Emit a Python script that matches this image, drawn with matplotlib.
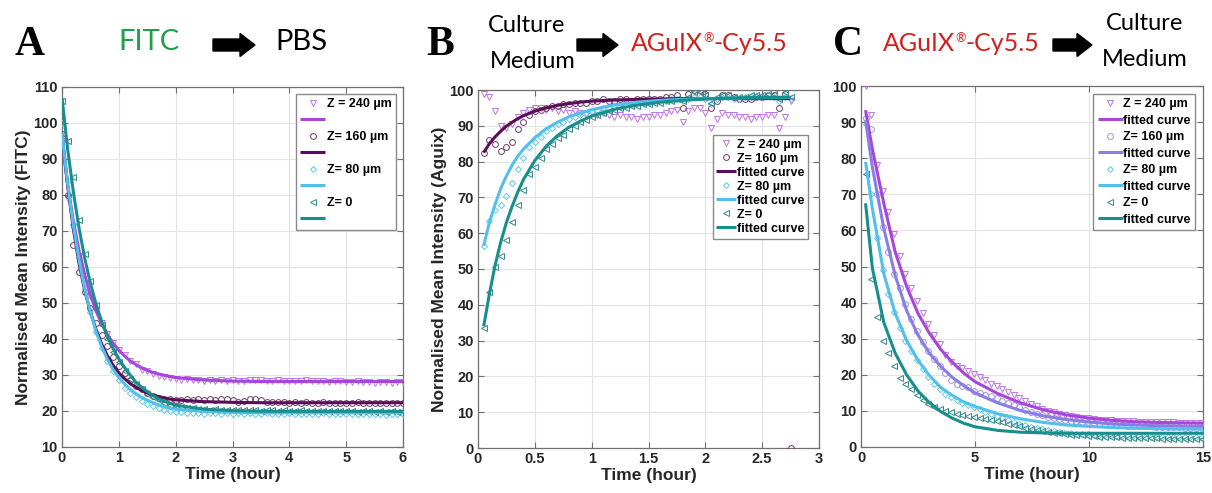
import numpy as np
import matplotlib
matplotlib.use('Agg')
import matplotlib.pyplot as plt
from matplotlib.lines import Line2D
from matplotlib.patches import FancyArrow

plt.rcParams['font.family'] = ['Liberation Sans', 'DejaVu Sans']
plt.rcParams['font.weight'] = 'bold'

W, H = 1212, 493

# ---------------- panel A : FITC -> PBS (sampled every 0.1 h from t=0)
A_T0, A_DT = 0.0, 0.1
A_Z240 = [95, 79, 71, 63, 57.5, 52, 48, 44.5, 41.5, 39, 37, 35.5, 34, 33, 31.5, 31, 30.2, 29.8, 29.5, 29.2, 29,
          28.6, 28.8, 28.5, 28.6, 28.4, 28.5, 28.3, 28.6, 28.4, 28.5, 28.3, 28.4, 28.6, 28.7, 28.5, 28.4, 28.3,
          28.5, 28.4, 28.3, 28.4, 28.2, 28.5, 28.3, 28.4, 28.2, 28.1, 28.3, 28.2, 28.0, 28.1, 28.2, 28.0, 28.1,
          27.9, 28.0, 28.1, 27.9, 28.0, 28.1]
A_Z160 = [97, 80, 66, 58.5, 53, 48.5, 44.5, 41, 38, 35, 32.5, 30.5, 28.5, 27, 26, 25, 24.2, 23.7, 23.4, 23.2, 23.1,
          23.0, 23.2, 23.1, 23.3, 23.0, 23.2, 23.1, 23.3, 23.2, 23.0, 22.6, 22.8, 23.2, 23.3, 23.1, 22.5, 22.4,
          22.6, 22.5, 22.3, 22.4, 22.3, 22.4, 22.2, 22.3, 22.4, 22.2, 22.3, 22.1, 22.3, 22.2, 22.4, 22.2, 22.3,
          22.1, 22.2, 22.3, 22.1, 22.2, 22.3]
A_Z80 = [100, 84, 72, 62.5, 54, 47.5, 42, 37.5, 34, 31, 28.5, 26.5, 25, 23.8, 22.8, 22, 21.3, 20.8, 20.4, 20.1, 19.8,
         19.6, 19.5, 19.4, 19.5, 19.3, 19.4, 19.5, 19.3, 19.4, 19.2, 19.4, 19.3, 19.5, 19.3, 19.2, 19.4, 19.3,
         19.2, 19.3, 19.4, 19.2, 19.3, 19.1, 19.3, 19.2, 19.4, 19.2, 19.3, 19.1, 19.2, 19.3, 19.1, 19.2, 19.3,
         19.1, 19.2, 19.0, 19.2, 19.1, 19.2]
A_Z0 = [106, 95, 85, 73, 63.5, 56, 49.5, 44, 40, 36.5, 33.5, 31, 29, 27.5, 26, 24.8, 23.8, 23, 22.3, 21.8, 21.3,
        21.0, 20.8, 20.7, 20.5, 20.6, 20.4, 20.5, 20.3, 20.4, 20.2, 20.3, 20.4, 20.2, 20.3, 20.1, 20.2, 20.3,
        20.1, 20.2, 20.0, 20.1, 20.2, 20.0, 20.1, 19.9, 20.0, 20.1, 19.9, 20.0, 19.9, 20.0, 19.8, 19.9, 20.0,
        19.8, 19.9, 19.8, 19.9, 19.8, 19.9]

A_FIT_T = [0, 0.1, 0.2, 0.3, 0.4, 0.5, 0.6, 0.7, 0.8, 0.9, 1.0, 1.1, 1.2, 1.3, 1.4, 1.5, 1.6, 1.7, 1.8, 1.9, 2.0,
           2.5, 3, 3.5, 4, 4.5, 5, 5.5, 6]
A_FIT240 = [95.2, 82.8, 72.7, 64.5, 57.8, 52.3, 47.8, 44.2, 41.2, 38.8, 36.9, 35.3, 33.9, 32.9, 32.0, 31.3, 30.7,
            30.3, 29.9, 29.6, 29.3, 28.6, 28.3, 28.2, 28.2, 28.2, 28.2, 28.2, 28.2]
A_FIT160 = [97, 82.5, 70.5, 61, 53.5, 47.5, 42.5, 38.5, 35.3, 32.7, 30.6, 29, 27.6, 26.6, 25.7, 25, 24.4, 24, 23.6,
            23.3, 23.1, 22.6, 22.4, 22.3, 22.3, 22.3, 22.3, 22.3, 22.3]
A_FIT80 = [97, 83, 71.5, 62, 54, 47.5, 42, 37.8, 34.3, 31.5, 29.3, 27.5, 26, 24.8, 23.8, 23, 22.3, 21.7, 21.2, 20.8,
           20.5, 19.9, 19.6, 19.5, 19.5, 19.5, 19.5, 19.5, 19.5]
A_FIT0 = [107, 92.7, 80.8, 70.8, 62.4, 55.5, 49.6, 44.8, 40.7, 37.3, 34.5, 32.1, 30.0, 28.0, 26.6, 25.4, 24.3, 23.4,
          22.7, 22.1, 21.6, 20.5, 20.1, 19.95, 19.9, 19.9, 19.9, 19.9, 19.9]

# ---------------- panel B : culture medium -> AGuIX (every 0.05 h from t=0.05)
B_T0, B_DT = 0.05, 0.05
B_Z240 = [99, 98, 94, 90, 89.5, 90.5, 92.5, 93.5, 94.5, 95, 95, 94.5, 95, 94, 94.5, 93.5, 94, 93.5, 93, 93.5, 93,
          93.5, 93, 92.5, 93, 92.5, 92.5, 92, 92.5, 92.5, 93, 93, 93.5, 94, 94.5, 91, 94, 95, 95, 93.5, 89.5, 92,
          93.5, 93, 93, 92.5, 92.5, 92, 92.5, 92.5, 93, 93, 89.5, 92.5, 97]
B_Z160 = [82.5, 86, 85, 83, 84, 85.5, 89, 91, 93, 94, 94.5, 95, 95.5, 95.5, 96, 96, 96.5, 96.5, 96.5, 97, 97, 97.5,
          97, 97, 97.5, 97.5, 97, 97.5, 97.5, 97.5, 97.5, 97.5, 98, 98, 98.5, 95, 99, 100, 100, 99, 95, 97, 98.5,
          98.5, 98, 97.5, 97.5, 97.5, 98, 98, 98.5, 98.5, 95, 99, 0]
B_Z80 = [56.5, 63.5, 66.5, 68, 70.5, 74, 78, 81, 84, 85.5, 87, 88.5, 89.5, 90.5, 91, 92, 92.5, 93, 93.5, 94, 94.5,
         95, 95, 95.5, 95.5, 96, 96, 96.5, 96.5, 96.5, 97, 97, 97, 97.5, 97.5, 97, 97.5, 98, 98, 97.5, 96, 97.5, 98,
         98, 97.5, 97.5, 98, 98, 98, 98, 98.5, 98, 97, 98, 97.5]
B_Z0 = [33.5, 43.5, 50.5, 53.5, 58, 63, 68, 72, 76.5, 78.5, 81, 83.5, 85, 86.5, 87.5, 89, 90, 91, 91.5, 92.5, 93,
        93.5, 94, 94.5, 95, 95, 95.5, 95.5, 96, 96, 96.5, 96.5, 97, 97, 97.5, 97, 98, 99.5, 99.5, 98.5, 96.5, 98,
        98.5, 98.5, 98, 98, 98, 98.5, 98.5, 98.5, 99, 99, 97.5, 99.5, 98]

B_FIT_T = [0.05, 0.1, 0.15, 0.2, 0.25, 0.3, 0.35, 0.4, 0.5, 0.6, 0.7, 0.8, 0.9, 1.0, 1.2, 1.4, 1.6, 1.8, 2.0, 2.4,
           2.75]
B_FIT160 = [82.5, 85, 86.9, 88.5, 89.9, 91, 92, 92.8, 94.1, 95, 95.7, 96.2, 96.6, 96.9, 97.2, 97.4, 97.5, 97.6, 97.6,
            97.6, 97.6]
B_FIT80 = [56.5, 63, 68, 72.5, 76, 79, 81.5, 83.5, 86.7, 89.2, 91, 92.5, 93.6, 94.5, 95.8, 96.6, 97.1, 97.4, 97.6,
           97.8, 97.9]
B_FIT0 = [34, 43, 51, 57.5, 63, 67.5, 71.5, 75, 80.3, 84.3, 87.3, 89.6, 91.3, 92.7, 94.6, 95.8, 96.6, 97.1, 97.5,
          97.9, 98]

# ---------------- panel C : AGuIX -> culture medium (every 0.25 h from t=0.2)
C_T0, C_DT = 0.2, 0.25
C_Z240 = [100, 92, 78, 71, 65, 59, 53, 48, 44, 40.5, 37, 34, 31, 28.5, 25.5, 23.5, 22.5, 21.8, 21, 20.2, 19.5, 18.5,
          17.5, 16.8, 16, 15.2, 14.5, 13.6, 12.8, 12, 11.3, 10.6, 10, 9.6, 9.2, 8.9, 8.6, 8.3, 8.1, 7.9, 7.7, 7.6,
          7.5, 7.4, 7.3, 7.2, 7.1, 7.1, 7.0, 7.0, 6.9, 6.9, 6.8, 6.8, 6.8, 6.7, 6.7, 6.7, 6.6, 6.6]
C_Z160 = [91, 88, 70, 61, 54, 48, 44, 39.5, 35.5, 32, 29, 26.5, 24.5, 22.5, 20.5, 18.5, 17.5, 17, 16.5, 15.5, 15,
          14.5, 14, 13.5, 12.8, 12.2, 11.5, 11, 10.3, 9.8, 9.2, 8.8, 8.4, 8.1, 7.8, 7.6, 7.3, 7.1, 6.9, 6.8, 6.6,
          6.5, 6.3, 6.2, 6.1, 6.0, 5.9, 5.9, 5.8, 5.7, 5.7, 5.6, 5.6, 5.5, 5.5, 5.5, 5.4, 5.4, 5.4, 5.3]
C_Z80 = [89.5, 70, 58, 49, 42.5, 37.5, 33, 29.5, 26.5, 24, 21.5, 19.5, 17.5, 16, 14.8, 13.8, 13, 12.3, 11.7, 11,
         10.4, 9.8, 9.2, 8.6, 8, 7.5, 7, 6.5, 6, 5.6, 5.2, 4.9, 4.6, 4.4, 4.2, 4.0, 3.8, 3.7, 3.6, 3.5, 3.4, 3.3,
         3.3, 3.2, 3.1, 3.1, 3.0, 3.0, 3.0, 2.9, 2.9, 2.9, 2.8, 2.8, 2.8, 2.8, 2.7, 2.7, 2.7, 2.7]
C_Z0 = [75.5, 46.5, 36, 29.5, 26, 22.5, 19, 17.5, 16, 14.5, 13, 12, 11, 10.5, 10, 9.6, 9.2, 8.9, 8.6, 8.3, 8, 7.7,
        7.4, 7.1, 6.8, 6.5, 6.1, 5.8, 5.4, 5.1, 4.8, 4.5, 4.2, 4.0, 3.8, 3.6, 3.4, 3.3, 3.2, 3.1, 3.0, 2.9, 2.8,
        2.8, 2.7, 2.6, 2.6, 2.5, 2.5, 2.4, 2.4, 2.4, 2.3, 2.3, 2.3, 2.2, 2.2, 2.2, 2.2, 2.1]

C_FIT_T = [0.2, 0.5, 1, 1.5, 2, 2.5, 3, 3.5, 4, 4.5, 5, 6, 7, 8, 9, 10, 11, 12, 13, 14, 15]
C_FIT240 = [93.3, 82.5, 67.5, 54, 44.5, 37, 31.5, 27, 23.5, 20.5, 18.1, 14.8, 12.2, 10.3, 8.9, 8.0, 7.4, 7.0, 6.8,
            6.7, 6.6]
C_FIT160 = [90.5, 77.5, 60.5, 47.5, 37.8, 31, 26, 22.3, 19.3, 17, 15, 12.2, 10.1, 8.6, 7.6, 6.9, 6.4, 6.1, 5.9, 5.8,
            5.7]
C_FIT80 = [79, 66, 48, 37, 29.5, 24, 19.8, 16.5, 14.3, 12.5, 11.2, 9.2, 7.8, 6.8, 6.1, 5.7, 5.4, 5.2, 5.1, 5.0, 5.0]
C_FIT0 = [67.5, 49.5, 34.5, 26, 20, 15.5, 12.3, 9.8, 8, 6.6, 5.6, 4.6, 4.1, 3.9, 3.8, 3.8, 3.8, 3.8, 3.8, 3.8, 3.8]

LABELS = ['Z = 240 µm', 'Z= 160 µm', 'Z= 80 µm', 'Z= 0']
MARKERS = ['v', 'o', 'D', '<']

# colours: (marker, line)
COL_240 = ('#C07BE4', '#A845DA')
COL_160 = ('#74486F', '#5A0E59')
COL_160C = ('#A29ADE', '#8A7DE3')
COL_80 = ('#6ACAEA', '#52C0EA')
COL_0 = ('#3A8E8C', '#178F8C')


def px(x, y):
    return x / W, 1 - y / H


def draw_series(ax, t0, dt, y, fit_t, fit_y, marker, cols):
    t = t0 + dt * np.arange(len(y))
    ms = 3.1 if marker == 'D' else 4.2
    ax.plot(t, y, ls='none', marker=marker, ms=ms, mfc='none', mec=cols[0], mew=0.75, zorder=3)
    hm = Line2D([], [], ls='none', marker=marker, ms=ms, mfc='none', mec=cols[0], mew=0.75)
    hl = None
    if fit_y is not None:
        hl, = ax.plot(fit_t, fit_y, color=cols[1], lw=2.2, solid_capstyle='butt', zorder=4)
    return hm, hl


def style_axes(ax, xlim, xticks, xlabels, ylim, yticks):
    ax.set_xlim(*xlim)
    ax.set_ylim(*ylim)
    ax.set_xticks(xticks)
    ax.set_xticklabels(xlabels)
    ax.set_yticks(yticks)
    ax.grid(True, color='#E4E4E4', lw=0.8)
    ax.set_axisbelow(True)
    for s in ax.spines.values():
        s.set_color('#707070')
        s.set_linewidth(0.9)
    ax.tick_params(direction='in', length=4, width=0.8, color='#707070', top=True, right=True,
                   labelsize=10.5, labelcolor='#262626', pad=3)
    for lab in ax.get_xticklabels() + ax.get_yticklabels():
        lab.set_fontweight('bold')
    ax.set_xlabel('Time (hour)', fontsize=12.5, fontweight='bold', color='#262626', labelpad=1)


fig = plt.figure(figsize=(W / 100, H / 100), dpi=100)

# ---- A
axA = fig.add_axes([62 / W, 1 - 447 / H, 341 / W, 360 / H])
hA = []
for y, fy, m, c in zip([A_Z240, A_Z160, A_Z80, A_Z0], [A_FIT240, A_FIT160, A_FIT80, A_FIT0], MARKERS,
                       [COL_240, COL_160, COL_80, COL_0]):
    hA.append(draw_series(axA, A_T0, A_DT, y, A_FIT_T, fy, m, c))
style_axes(axA, (0, 6), range(0, 7), [str(i) for i in range(7)], (10, 110), range(10, 111, 10))
axA.set_ylabel('Normalised Mean Intensity (FITC)', fontsize=12.5, fontweight='bold', color='#262626', labelpad=2)
handles, labels = [], []
for (hm, hl), lab in zip(hA, LABELS):
    handles += [hm, hl]
    labels += [lab, ' ']
axA.legend(handles, labels, loc='upper right', bbox_to_anchor=(0.979, 0.981), fontsize=9, frameon=True,
           fancybox=False, edgecolor='#8A8A8A', framealpha=1, borderpad=0.35, labelspacing=0.36,
           handlelength=2.0, handletextpad=0.1, borderaxespad=0)

# ---- B
axB = fig.add_axes([478 / W, 1 - 448 / H, 341 / W, 358 / H])
hB = []
for y, fy, m, c in zip([B_Z240, B_Z160, B_Z80, B_Z0], [None, B_FIT160, B_FIT80, B_FIT0], MARKERS,
                       [COL_240, COL_160, COL_80, COL_0]):
    hB.append(draw_series(axB, B_T0, B_DT, y, B_FIT_T, fy, m, c))
style_axes(axB, (0, 3), np.arange(0, 3.01, 0.5), ['0', '0.5', '1', '1.5', '2', '2.5', '3'], (0, 100),
           range(0, 101, 10))
axB.set_ylabel('Normalised Mean Intensity (Aguix)', fontsize=12.5, fontweight='bold', color='#262626', labelpad=2)
handles = [hB[0][0], hB[1][0], hB[1][1], hB[2][0], hB[2][1], hB[3][0], hB[3][1]]
labels = [LABELS[0], LABELS[1], 'fitted curve', LABELS[2], 'fitted curve', LABELS[3], 'fitted curve']
axB.legend(handles, labels, loc='upper right', bbox_to_anchor=(0.968, 0.874), fontsize=9, frameon=True,
           fancybox=False, edgecolor='#8A8A8A', framealpha=1, borderpad=0.3, labelspacing=0.16,
           handlelength=1.6, handletextpad=0.05, borderaxespad=0)

# ---- C
axC = fig.add_axes([861 / W, 1 - 447 / H, 342 / W, 361 / H])
hC = []
for y, fy, m, c in zip([C_Z240, C_Z160, C_Z80, C_Z0], [C_FIT240, C_FIT160, C_FIT80, C_FIT0], MARKERS,
                       [COL_240, COL_160C, COL_80, COL_0]):
    hC.append(draw_series(axC, C_T0, C_DT, y, C_FIT_T, fy, m, c))
style_axes(axC, (0, 15), [0, 5, 10, 15], ['0', '5', '10', '15'], (0, 100), range(0, 101, 10))
handles, labels = [], []
for (hm, hl), lab in zip(hC, LABELS):
    handles += [hm, hl]
    labels += [lab, 'fitted curve']
axC.legend(handles, labels, loc='upper right', bbox_to_anchor=(0.977, 0.978), fontsize=9, frameon=True,
           fancybox=False, edgecolor='#8A8A8A', framealpha=1, borderpad=0.35, labelspacing=0.36,
           handlelength=2.0, handletextpad=0.05, borderaxespad=0)

# ---- headings
RED = '#D1211F'
GREEN = '#1F9E4B'
FAM = ['Lato', 'DejaVu Sans']
TXT = dict(family=FAM, fontweight='normal', ha='center', va='center')
for letter, x in [('A', 30), ('B', 440), ('C', 848)]:
    fig.text(*px(x, 45), letter, fontsize=30, fontweight='bold', family=['Liberation Serif', 'DejaVu Serif'],
             ha='center', va='center')
fig.text(*px(149, 42), 'FITC', color=GREEN, fontsize=21, **TXT)
fig.text(*px(301, 42), 'PBS', color='black', fontsize=21, **TXT)
fig.text(*px(527, 26), 'Culture', fontsize=17, **TXT)
fig.text(*px(533, 61), 'Medium', fontsize=17, **TXT)
fig.text(*px(1145, 24), 'Culture', fontsize=17, **TXT)
fig.text(*px(1145, 60), 'Medium', fontsize=17, **TXT)

# AGuIX with a small raised registered sign, laid out piece by piece
renderer = fig.canvas.get_renderer()


def agu_title(xc, base, size):
    parts = [('AGuIX', size, 0), ('®', size * 0.5, 9), ('-Cy5.5', size, 0)]
    texts = []
    for s, fs, rise in parts:
        t = fig.text(0, 0, s, color=RED, fontsize=fs, family=FAM, fontweight='normal', ha='left', va='baseline')
        texts.append((t, t.get_window_extent(renderer).width, rise))
    x = xc - sum(w for _, w, _ in texts) / 2
    for t, w, rise in texts:
        t.set_position(px(x, base - rise))
        x += w


agu_title(709, 51, 18)
agu_title(961, 51, 18)

for x0, x1 in [(213, 255), (577, 618), (1053, 1092)]:
    fig.patches.append(FancyArrow(x0 / W, 1 - 45 / H, (x1 - x0) / W, 0, width=12 / H, head_width=23 / H,
                                  head_length=15 / W, length_includes_head=True, color='black',
                                  transform=fig.transFigure, figure=fig))

fig.savefig('out.png', dpi=100)
